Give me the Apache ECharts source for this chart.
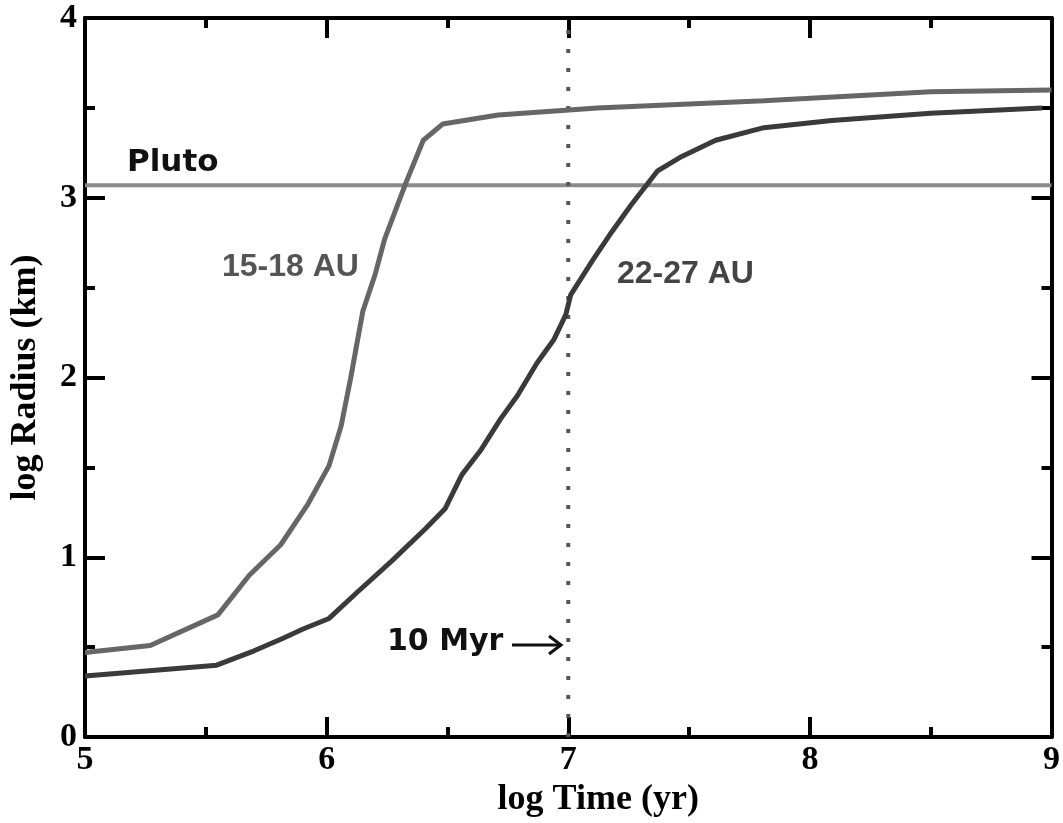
<!DOCTYPE html>
<html>
<head>
<meta charset="utf-8">
<script src="https://cdn.jsdelivr.net/npm/echarts@6/dist/echarts.min.js"></script>
<style>html,body{margin:0;padding:0;background:#fff}#c{width:1063px;height:823px}</style>
</head>
<body>
<div id="c"></div>
<script>
// log Time (yr) and log Radius (km) for the 15-18 AU run
const t15 = [5.00, 5.27, 5.55, 5.68, 5.81, 5.92, 6.01, 6.06, 6.10, 6.15, 6.20, 6.24, 6.33, 6.40, 6.48, 6.71, 7.12, 7.81, 8.50, 9.00];
const r15 = [0.47, 0.51, 0.68, 0.90, 1.07, 1.29, 1.51, 1.73, 2.00, 2.37, 2.57, 2.77, 3.09, 3.32, 3.41, 3.46, 3.50, 3.54, 3.59, 3.60];
// 22-27 AU run
const t22 = [5.00, 5.545, 5.70, 5.82, 5.90, 6.01, 6.13, 6.27, 6.41, 6.49, 6.56, 6.64, 6.72, 6.79, 6.87, 6.94, 6.99, 7.01, 7.10, 7.18, 7.26, 7.37, 7.47, 7.61, 7.81, 8.09, 8.50, 8.96];
const r22 = [0.34, 0.40, 0.48, 0.55, 0.60, 0.66, 0.81, 0.98, 1.16, 1.27, 1.46, 1.60, 1.77, 1.90, 2.08, 2.21, 2.35, 2.46, 2.65, 2.81, 2.96, 3.15, 3.23, 3.32, 3.39, 3.43, 3.47, 3.50];
// Pluto reference radius and the 10 Myr marker
const plutoT = [5, 9];
const plutoR = [3.07, 3.07];
const myrT = [7, 7];
const myrR = [0, 4];
const xTicks = [5, 6, 7, 8, 9];
const yTicks = [0, 1, 2, 3, 4];

const pairs = (a, b) => a.map((v, i) => [v, b[i]]);
const serif = '"Liberation Serif", "Times New Roman", serif';
const axisCommon = {
  type: 'value',
  splitLine: { show: false },
  axisLine: { show: true, onZero: false, lineStyle: { color: '#000', width: 4 } },
  axisTick: { show: true, inside: true, length: 20, lineStyle: { color: '#000', width: 4 } },
  minorTick: { show: true, splitNumber: 2, length: 10, lineStyle: { color: '#000', width: 4 } },
  axisLabel: { show: true, color: '#000', fontFamily: serif, fontWeight: 'bold', fontSize: 34 }
};

const chart = echarts.init(document.getElementById('c'), null, { renderer: 'canvas' });
chart.setOption({
  animation: false,
  backgroundColor: '#fff',
  grid: { left: 84, right: 8, top: 18, bottom: 78, containLabel: false },
  xAxis: [
    Object.assign({}, axisCommon, {
      min: xTicks[0], max: xTicks[xTicks.length - 1], interval: 1, position: 'bottom',
      axisLabel: Object.assign({}, axisCommon.axisLabel, { margin: 6 }),
      name: 'log Time (yr)', nameLocation: 'middle', nameGap: 40,
      nameTextStyle: { color: '#000', fontFamily: serif, fontWeight: 'bold', fontSize: 36, padding: [0, 0, 0, 60] }
    }),
    Object.assign({}, axisCommon, {
      min: xTicks[0], max: xTicks[xTicks.length - 1], interval: 1, position: 'top',
      axisLabel: { show: false }
    })
  ],
  yAxis: [
    Object.assign({}, axisCommon, {
      min: yTicks[0], max: yTicks[yTicks.length - 1], interval: 1, position: 'left',
      axisLabel: Object.assign({}, axisCommon.axisLabel, { margin: 8 }),
      name: 'log Radius (km)', nameLocation: 'middle', nameGap: 41,
      nameTextStyle: { color: '#000', fontFamily: serif, fontWeight: 'bold', fontSize: 36 }
    }),
    Object.assign({}, axisCommon, {
      min: yTicks[0], max: yTicks[yTicks.length - 1], interval: 1, position: 'right',
      axisLabel: { show: false }
    })
  ],
  series: [
    {
      name: 'Pluto', type: 'line', data: pairs(plutoT, plutoR), symbol: 'none',
      lineStyle: { color: '#8a8a8a', width: 4 }, z: 1
    },
    {
      name: '10 Myr', type: 'line', data: pairs(myrT, myrR), symbol: 'none',
      lineStyle: { color: '#555', width: 4, type: [4, 15] }, z: 1
    },
    {
      name: '15-18 AU', type: 'line', data: pairs(t15, r15), symbol: 'none',
      lineStyle: { color: '#666', width: 5 }, z: 3
    },
    {
      name: '22-27 AU', type: 'line', data: pairs(t22, r22), symbol: 'none',
      lineStyle: { color: '#3a3a3a', width: 5 }, z: 3
    }
  ],
  graphic: [
    { type: 'text', left: 127, top: 147, style: { text: 'Pluto', fill: '#111', font: 'bold 31px "DejaVu Sans", sans-serif' } },
    { type: 'text', left: 222, top: 251, style: { text: '15-18 AU', fill: '#555', font: 'bold 32px "Liberation Sans", Arial, sans-serif' } },
    { type: 'text', left: 617, top: 258, style: { text: '22-27 AU', fill: '#444', font: 'bold 32px "Liberation Sans", Arial, sans-serif' } },
    { type: 'text', left: 387, top: 627, style: { text: '10 Myr', fill: '#111', font: 'bold 30px "DejaVu Sans", sans-serif' } },
    { type: 'polyline', shape: { points: [[512, 645], [560, 645]] }, style: { stroke: '#111', lineWidth: 3 } },
    { type: 'polyline', shape: { points: [[549, 636], [561, 645], [549, 654]] }, style: { stroke: '#111', lineWidth: 3, fill: null } }
  ]
});
</script>
</body>
</html>
